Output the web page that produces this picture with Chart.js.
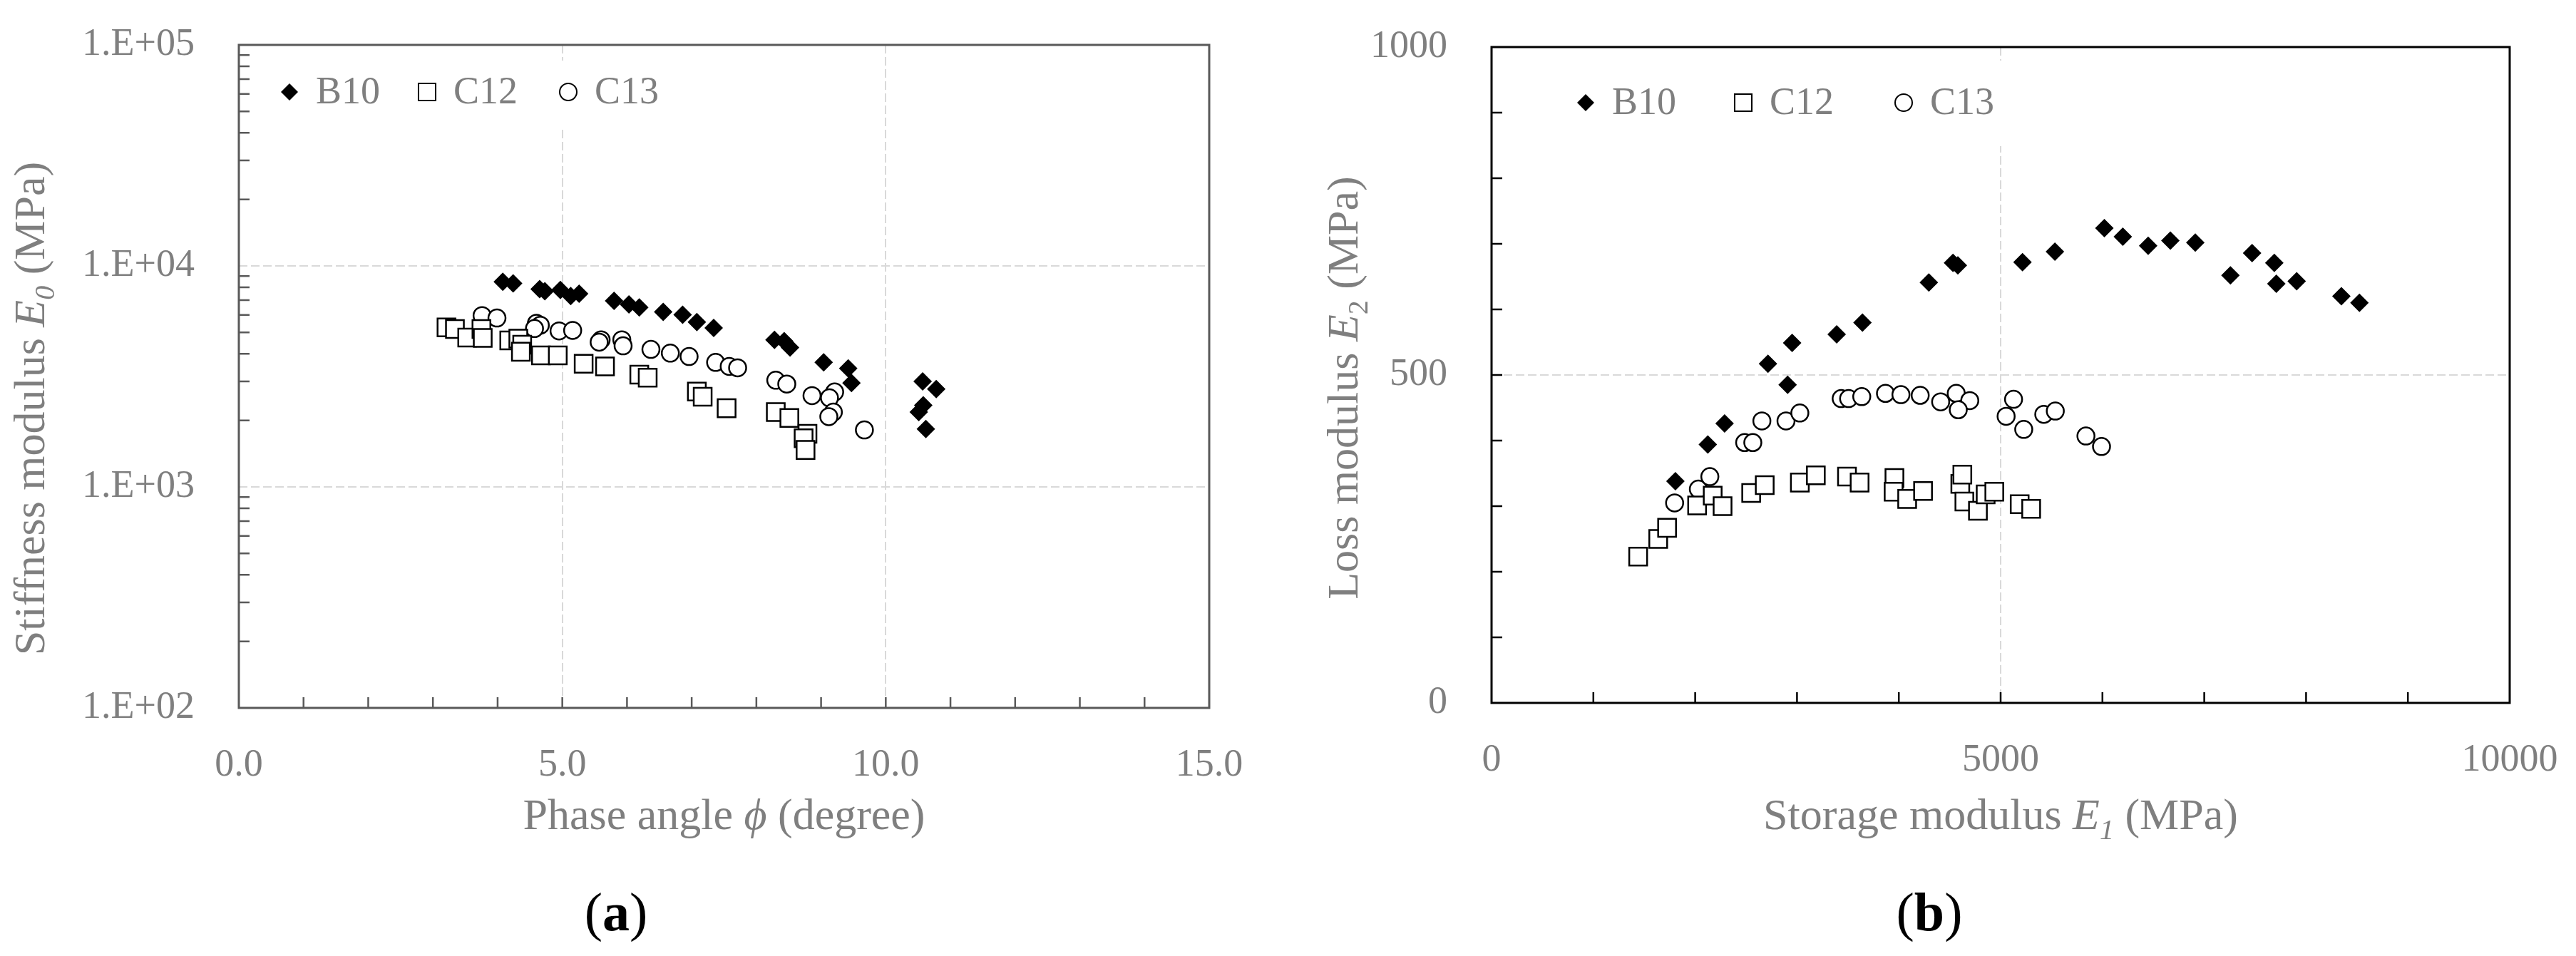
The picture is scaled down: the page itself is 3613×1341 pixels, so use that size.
<!DOCTYPE html>
<html lang="en">
<head>
<meta charset="UTF-8">
<title>Stiffness, storage and loss modulus</title>
<script src="https://cdn.jsdelivr.net/npm/chart.js"></script>
<style>
    body{margin:0;background:#fff;}
    .wrap{position:relative;width:3613px;height:1341px;overflow:hidden;background:#fff;}
    canvas{position:absolute;top:0;}
    #chartA{left:0;}
    #chartB{left:1800px;}
</style>
</head>
<body>
<div class="wrap">
    <canvas id="chartA" width="1795" height="1341"></canvas>
    <canvas id="chartB" width="1813" height="1341"></canvas>
</div>

<script>
/* ==== (a) phase angle (deg) vs stiffness modulus E0 (MPa) ==== */
const phaseB10 = [4.08,4.24,4.65,4.73,4.97,5.13,5.26,5.80,6.03,6.19,6.56,6.86,7.08,7.34,8.28,8.43,8.52,9.04,9.42,9.47,10.57,10.78,10.58,10.51,10.62];
const stiffB10 = [8470,8330,7850,7680,7780,7310,7490,6950,6700,6490,6190,6010,5570,5240,4630,4570,4270,3660,3440,2950,3000,2770,2340,2180,1830];
const phaseC12 = [3.21,3.34,3.53,3.75,3.77,4.18,4.32,4.38,4.36,4.67,4.93,5.33,5.66,6.19,6.32,7.08,7.17,7.54,8.30,8.51,8.79,8.73,8.76];
const stiffC12 = [5270,5180,4740,5180,4720,4600,4690,4400,4090,3940,3940,3610,3510,3220,3120,2700,2560,2270,2180,2050,1740,1660,1470];
const phaseC13 = [3.76,3.99,4.60,4.66,4.57,4.95,5.16,5.60,5.57,5.92,5.94,6.37,6.67,6.96,7.37,7.58,7.71,8.30,8.47,8.86,9.21,9.13,9.19,9.12,9.67];
const stiffC13 = [5960,5810,5500,5390,5210,5080,5110,4630,4520,4630,4350,4190,4030,3890,3660,3510,3460,3040,2920,2590,2690,2530,2180,2080,1810];

/* ==== (b) storage modulus E1 vs loss modulus E2 (MPa) ==== */
const storB10 = [1806,2124,2289,2715,2908,2952,3390,3643,4295,4532,4580,5215,5533,6019,6200,6449,6667,6912,7257,7470,7688,7708,7908,8347,8524];
const lossB10 = [338,394,426,517,485,549,562,580,641,671,667,672,688,724,711,697,705,702,652,686,671,639,643,620,610];
const storC12 = [1440,1637,1724,2019,2172,2269,2550,2683,3028,3185,3491,3615,3957,3949,4082,4238,4604,4624,4644,4777,4853,4938,5187,5300];
const lossC12 = [223,250,267,301,316,300,320,332,336,347,345,336,343,322,311,323,334,348,307,293,318,322,303,296];
const storC13 = [1798,2031,2144,2486,2566,2655,2892,3028,3434,3507,3636,3869,4021,4210,4411,4564,4697,4584,5054,5127,5227,5424,5537,5838,5991];
const lossC13 = [305,326,345,397,397,430,430,442,464,464,467,472,470,469,459,472,461,447,437,463,417,440,445,407,391];

const seriesNames = ['B10','C12','C13'];
const decadeTicks = [100,1000,10000,100000];   // 1.E+02 ... 1.E+05

const GREY  = '#7f7f7f';
const SERIF = '"Liberation Serif","Times New Roman",serif';

/* marker shapes (legend + same look as the points) */
function marker(ctx, style, x, y, r, lw){
    ctx.beginPath();
    if(style==='rectRot'){
        ctx.moveTo(x-r,y); ctx.lineTo(x,y-r); ctx.lineTo(x+r,y); ctx.lineTo(x,y+r); ctx.closePath();
        ctx.fillStyle='#000'; ctx.fill();
    }else{
        if(style==='rect'){ const h=r*Math.SQRT1_2; ctx.rect(x-h,y-h,2*h,2*h); }
        else ctx.arc(x,y,r,0,Math.PI*2);
        ctx.fillStyle='#fff'; ctx.fill();
        ctx.lineWidth=lw; ctx.strokeStyle='#000'; ctx.stroke();
    }
}

/* text with italic / subscript pieces */
function richText(ctx, parts, size, x, y){
    const fontOf = p => `${p.b?'bold ':''}${p.i?'italic ':''}${p.sub?Math.round(size*0.65):size}px ${SERIF}`;
    let w=0;
    parts.forEach(p=>{ ctx.font=fontOf(p); w+=ctx.measureText(p.t).width; });
    let cx=x-w/2;
    ctx.textAlign='left';
    parts.forEach(p=>{
        ctx.font=fontOf(p);
        ctx.fillText(p.t,cx,y+(p.sub?size*0.22:0));
        cx+=ctx.measureText(p.t).width;
    });
}

/* frame, inner ticks, legend, axis titles, panel label */
const decor = {
    id:'decor',
    afterDraw(chart, args, o){
        const {ctx, chartArea:a} = chart;
        const xs=chart.scales.x, ys=chart.scales.y;
        ctx.save();

        // legend (white box hides the grid behind it)
        const L=o.legend;
        ctx.fillStyle='#fff';
        ctx.fillRect(L.box[0],L.box[1],L.box[2]-L.box[0],L.box[3]-L.box[1]);
        chart.data.datasets.forEach((ds,i)=>{
            const mx=L.x[i];
            marker(ctx, ds.pointStyle, mx, L.y, ds.pointStyle==='rect'?17:12, 2);
            ctx.fillStyle=GREY; ctx.font=`54px ${SERIF}`;
            ctx.textAlign='left'; ctx.textBaseline='middle';
            ctx.fillText(ds.label, mx+37, L.y+2);
        });

        // plot frame
        ctx.strokeStyle=o.frame; ctx.lineWidth=3;
        ctx.strokeRect(a.left,a.top,a.width,a.height);

        // minor ticks pointing inward
        ctx.lineWidth=2.5; ctx.beginPath();
        for(let v=xs.min+o.xStep; v<xs.max-1e-9; v+=o.xStep){
            const px=xs.getPixelForValue(v);
            ctx.moveTo(px,a.bottom); ctx.lineTo(px,a.bottom-15);
        }
        const yVals=[];
        if(o.yLog){
            for(let d=ys.min; d<ys.max; d*=10) for(let k=2;k<10;k++) yVals.push(k*d);
        }else{
            for(let v=ys.min+o.yStep; v<ys.max-1e-9; v+=o.yStep) yVals.push(v);
        }
        yVals.forEach(v=>{
            const py=ys.getPixelForValue(v);
            ctx.moveTo(a.left,py); ctx.lineTo(a.left+15,py);
        });
        ctx.stroke();

        // axis titles
        ctx.fillStyle=GREY; ctx.textBaseline='alphabetic';
        richText(ctx, o.xTitle, 62, (a.left+a.right)/2, 1163);
        ctx.save();
        ctx.translate(o.yTitlePos[0], o.yTitlePos[1]);
        ctx.rotate(-Math.PI/2);
        richText(ctx, o.yTitle, 62, 0, 20);
        ctx.restore();

        // panel label
        ctx.fillStyle='#000';
        richText(ctx, [{t:'('},{t:o.panel,b:true},{t:')'}], 76, o.panelX, 1305);
        ctx.restore();
    }
};

/* only the inner grid lines are drawn (dashed light grey) */
const innerGrid = c => (c.tick && c.tick.value>c.scale.min && c.tick.value<c.scale.max) ? '#d9d9d9' : 'rgba(0,0,0,0)';

/* fixed axis sizes, no extra room for overhanging end labels */
const fitX = h => s => { s.height=h; s.paddingLeft=0; s.paddingRight=0; };
const fitY = w => s => { s.width=w; s.paddingTop=0; s.paddingBottom=0; };

function makeSets(xsArr, ysArr){
    const styles=['rectRot','rect','circle'];
    const radii=[13,17.7,12];
    return seriesNames.map((name,i)=>({
        label:name,
        data:xsArr[i].map((x,j)=>({x, y:ysArr[i][j]})),
        pointStyle:styles[i],
        pointRadius:radii[i],
        pointHoverRadius:radii[i],
        pointBackgroundColor:i===0?'#000':'#fff',
        pointBorderColor:'#000',
        pointBorderWidth:i===0?0:2.5,
        showLine:false
    }));
}

const tickFont = {family:SERIF, size:54};

/* ==== chart (a) ==== */
new Chart(document.getElementById('chartA'),{
    type:'scatter',
    data:{datasets:makeSets([phaseB10,phaseC12,phaseC13],[stiffB10,stiffC12,stiffC13])},
    options:{
        responsive:false, animation:false, devicePixelRatio:1,
        layout:{padding:{top:63,right:99,left:0,bottom:0}},
        plugins:{
            legend:{display:false}, tooltip:{enabled:false},
            decor:{
                frame:'#595959', xStep:1, yLog:true,
                legend:{x:[406,599,797], y:129, box:[365,85,935,178]},
                xTitle:[{t:'Phase angle '},{t:'\u03D5',i:true},{t:' (degree)'}],
                yTitle:[{t:'Stiffness modulus '},{t:'E',i:true},{t:'0',i:true,sub:true},{t:' (MPa)'}],
                yTitlePos:[42,573], panel:'a', panelX:864
            }
        },
        scales:{
            x:{
                type:'linear', min:0, max:15,
                afterFit:fitX(348),
                ticks:{stepSize:5, padding:48, color:GREY, font:tickFont, callback:v=>v.toFixed(1)},
                grid:{color:innerGrid, lineWidth:2, drawTicks:false},
                border:{display:false, dash:[12,5]}
            },
            y:{
                type:'logarithmic', min:100, max:100000,
                afterFit:fitY(335),
                afterBuildTicks:s=>{s.ticks=decadeTicks.map(v=>({value:v}));},
                ticks:{padding:62, color:GREY, font:tickFont, autoSkip:false,
                       callback:v=>'1.E+0'+Math.round(Math.log10(v))},
                grid:{color:innerGrid, lineWidth:2, drawTicks:false},
                border:{display:false, dash:[12,5]}
            }
        }
    },
    plugins:[decor]
});

/* ==== chart (b) ==== */
new Chart(document.getElementById('chartB'),{
    type:'scatter',
    data:{datasets:makeSets([storB10,storC12,storC13],[lossB10,lossC12,lossC13])},
    options:{
        responsive:false, animation:false, devicePixelRatio:1,
        layout:{padding:{top:66,right:93,left:0,bottom:0}},
        plugins:{
            legend:{display:false}, tooltip:{enabled:false},
            decor:{
                frame:'#000', xStep:1000, yStep:100, yLog:false,
                legend:{x:[424,645,870], y:144, box:[350,85,1030,205]},
                xTitle:[{t:'Storage modulus '},{t:'E',i:true},{t:'1',i:true,sub:true},{t:' (MPa)'}],
                yTitle:[{t:'Loss modulus '},{t:'E',i:true},{t:'2',sub:true},{t:' (MPa)'}],
                yTitlePos:[84,544], panel:'b', panelX:906
            }
        },
        scales:{
            x:{
                type:'linear', min:0, max:10000,
                afterFit:fitX(355),
                ticks:{stepSize:5000, padding:48, color:GREY, font:tickFont, callback:v=>String(v)},
                grid:{color:innerGrid, lineWidth:2, drawTicks:false},
                border:{display:false, dash:[12,5]}
            },
            y:{
                type:'linear', min:0, max:1000,
                afterFit:fitY(292),
                ticks:{stepSize:500, padding:62, color:GREY, font:tickFont, callback:v=>String(v)},
                grid:{color:innerGrid, lineWidth:2, drawTicks:false},
                border:{display:false, dash:[12,5]}
            }
        }
    },
    plugins:[decor]
});
</script>
</body>
</html>
